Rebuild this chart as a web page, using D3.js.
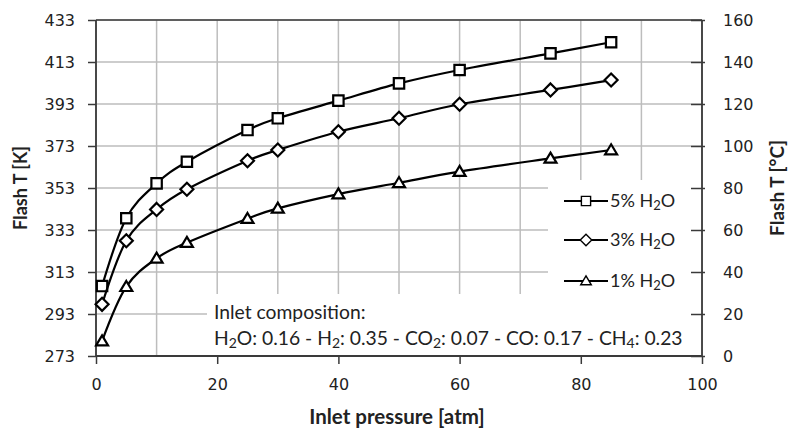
<!DOCTYPE html>
<html>
<head>
<meta charset="utf-8">
<script src="https://cdn.jsdelivr.net/npm/d3@7/dist/d3.min.js"></script>
<style>
  html, body { margin: 0; padding: 0; background: #fff; }
  svg { display: block; }
</style>
</head>
<body>
<svg id="chart" width="788" height="430"></svg>
<script>
// Flash temperature vs inlet pressure for three water contents
const pressure = [1, 5, 10, 15, 25, 30, 40, 50, 60, 75, 85];
const flash5 = [306.3, 338.6, 355.2, 365.5, 380.6, 386.2, 394.6, 402.8, 409.2, 417.1, 422.4];
const flash3 = [297.6, 327.9, 342.8, 352.4, 366.0, 371.1, 379.8, 386.2, 392.9, 399.7, 404.4];
const flash1 = [280.1, 306.0, 319.5, 327.0, 338.4, 343.3, 350.1, 355.5, 360.8, 367.1, 371.1];

const seriesNames = ["5%", "3%", "1%"];
const seriesSymbols = ["square", "diamond", "triangle"];

const xTicks = [0, 20, 40, 60, 80, 100];
const xGrid = [0, 10, 20, 30, 40, 50, 60, 70, 80, 90, 100];
const yTicksK = [273, 293, 313, 333, 353, 373, 393, 413, 433];
const yTicksC = [0, 20, 40, 60, 80, 100, 120, 140, 160];

const svg = d3.select("#chart");
const L = 96, R = 702, T = 20, B = 356;
const ink = "#222";
const axisInk = "#3a3a3a";
const gridInk = "#bdbdbd";

const x = d3.scaleLinear().domain([0, 100]).range([L, R]);
const y = d3.scaleLinear().domain([273, 433]).range([B, T]);
const y2 = d3.scaleLinear().domain([0, 160]).range([B, T]);

// grid
const grid = svg.append("g");
grid.selectAll("line.v").data(xGrid).join("line")
  .attr("x1", d => x(d)).attr("x2", d => x(d))
  .attr("y1", T).attr("y2", B)
  .attr("stroke", gridInk).attr("stroke-width", 1.5);
grid.selectAll("line.h").data(yTicksK).join("line")
  .attr("x1", L).attr("x2", R)
  .attr("y1", d => y(d)).attr("y2", d => y(d))
  .attr("stroke", gridInk).attr("stroke-width", 1.5);

// white panels behind legend and composition note
svg.append("rect").attr("x", 548).attr("y", 180).attr("width", R - 548).attr("height", 114).attr("fill", "#fff");
svg.append("rect").attr("x", 207).attr("y", 294).attr("width", R - 207).attr("height", B - 294).attr("fill", "#fff");

// axes
const tickFont = "DejaVu Sans, Verdana, sans-serif";
const gx = svg.append("g").attr("transform", `translate(0,${B})`)
  .call(d3.axisBottom(x).tickValues(xTicks).tickSize(8).tickPadding(15).tickFormat(d3.format("d")));
const gy = svg.append("g").attr("transform", `translate(${L},0)`)
  .call(d3.axisLeft(y).tickValues(yTicksK).tickSize(8).tickPadding(13).tickFormat(d3.format("d")));
const gy2 = svg.append("g").attr("transform", `translate(${R},0)`)
  .call(d3.axisRight(y2).tickValues(yTicksC).tickSize(3).tickPadding(18).tickFormat(d3.format("d")));
gy2.selectAll(".tick line").attr("x1", -11).attr("x2", 3);

[gx, gy, gy2].forEach(g => {
  g.select(".domain").attr("stroke", axisInk).attr("stroke-width", 1.8);
  g.selectAll(".tick line").attr("stroke", axisInk).attr("stroke-width", 1.5);
  g.selectAll(".tick text").attr("fill", ink)
    .style("font-family", tickFont).style("font-size", "16px");
});
gx.select(".domain").attr("d", `M${L},0H${R}`);
gy.select(".domain").attr("d", `M0,${B}V${T}`);
gy2.select(".domain").attr("d", `M0,${B}V${T}`);
svg.append("line").attr("x1", L).attr("x2", R).attr("y1", T).attr("y2", T)
  .attr("stroke", axisInk).attr("stroke-width", 1.6);

// markers
function markerPath(kind, s) {
  if (kind === "square") return `M${-s},${-s}H${s}V${s}H${-s}Z`;
  if (kind === "diamond") { const d = s * 1.25; return `M0,${-d}L${d},0L0,${d}L${-d},0Z`; }
  const h = s * 1.1;
  return `M0,${-h}L${s * 1.15},${h * 0.75}L${-s * 1.15},${h * 0.75}Z`;
}

const seriesVals = [flash5, flash3, flash1];
const line = d3.line().x(d => x(d[0])).y(d => y(d[1])).curve(d3.curveCatmullRom.alpha(0));

seriesVals.forEach((vals, i) => {
  const pts = pressure.map((p, j) => [p, vals[j]]);
  svg.append("path").datum(pts).attr("d", line)
    .attr("fill", "none").attr("stroke", "#000").attr("stroke-width", 2.2);
  svg.append("g").selectAll("path").data(pts).join("path")
    .attr("transform", d => `translate(${x(d[0])},${y(d[1])})`)
    .attr("d", markerPath(seriesSymbols[i], 5.2))
    .attr("fill", "#fff").attr("stroke", "#000").attr("stroke-width", 2.2);
});

// legend
const textFont = "Lato, 'Open Sans', sans-serif";
const legendY = [201, 240, 281];
seriesNames.forEach((name, i) => {
  const g = svg.append("g").attr("transform", `translate(0,${legendY[i]})`);
  g.append("line").attr("x1", 564).attr("x2", 608).attr("y1", 0).attr("y2", 0)
    .attr("stroke", "#000").attr("stroke-width", 2.2);
  g.append("path").attr("transform", "translate(586,0)")
    .attr("d", markerPath(seriesSymbols[i], 4.6))
    .attr("fill", "#fff").attr("stroke", "#000").attr("stroke-width", 1.4);
  const t = g.append("text").attr("x", 610).attr("y", 0).attr("dy", "0.36em")
    .attr("fill", ink).style("font-family", textFont).style("font-size", "18px");
  t.append("tspan").text(name + " H");
  t.append("tspan").attr("dy", 3).style("font-size", "13px").text("2");
  t.append("tspan").attr("dy", -3).text("O");
});

// composition note
const note = svg.append("g").style("font-family", textFont).style("font-size", "19.3px").attr("fill", ink);
note.append("text").attr("x", 214).attr("y", 319).text("Inlet composition:");
const comp = note.append("text").attr("x", 214).attr("y", 345);
const parts = [["H", "2", "O: 0.16 - H"], [null, "2", ": 0.35 - CO"], [null, "2", ": 0.07 - CO: 0.17 - CH"], [null, "4", ": 0.23"]];
parts.forEach(([a, sub, b]) => {
  if (a) comp.append("tspan").text(a);
  comp.append("tspan").attr("dy", 3).style("font-size", "14px").text(sub);
  comp.append("tspan").attr("dy", -3).text(b);
});

// axis titles
const titleFont = "Lato, 'Open Sans', sans-serif";
svg.append("text").attr("transform", `translate(21,188) rotate(-90)`)
  .attr("text-anchor", "middle").attr("dy", "0.35em")
  .style("font-family", titleFont).style("font-weight", "bold").style("font-size", "18px")
  .attr("fill", ink).text("Flash T [K]");
svg.append("text").attr("transform", `translate(777,188) rotate(-90)`)
  .attr("text-anchor", "middle").attr("dy", "0.35em")
  .style("font-family", titleFont).style("font-weight", "bold").style("font-size", "19px")
  .attr("fill", ink).text("Flash T [°C]");
svg.append("text").attr("x", 397).attr("y", 424).attr("text-anchor", "middle")
  .style("font-family", titleFont).style("font-weight", "bold").style("font-size", "20.5px")
  .attr("fill", ink).text("Inlet pressure [atm]");
</script>
</body>
</html>
